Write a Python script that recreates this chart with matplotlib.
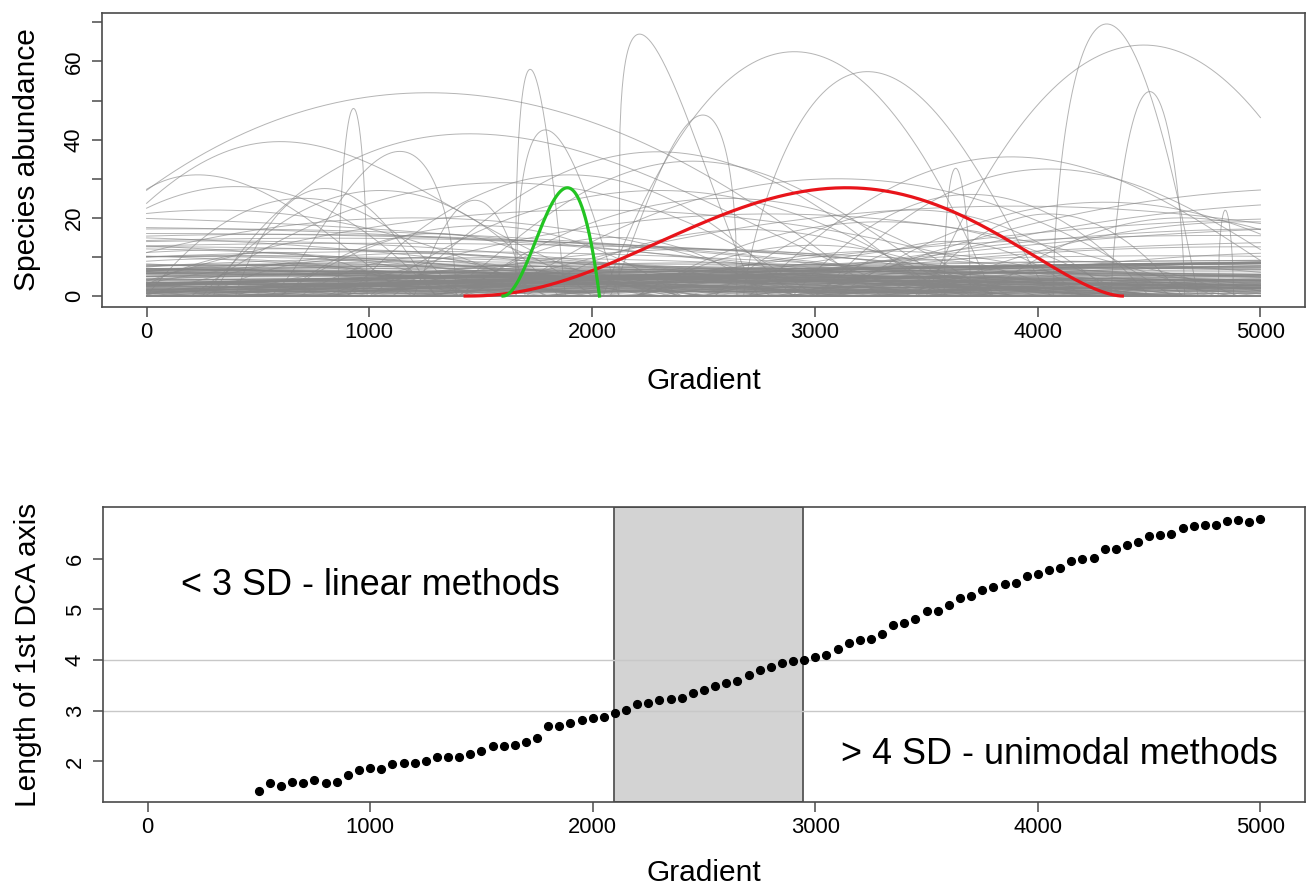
import numpy as np
import matplotlib
matplotlib.use("Agg")
import matplotlib.pyplot as plt

plt.rcParams['font.family'] = ['Liberation Sans', 'DejaVu Sans']

# ---- top panel: species response curves (beta response parameters) ----
# prominent curves: range lo..hi, mode, peak height, shape (alpha+gamma)
big_lo    = [-500, -500, 300, 550, 860, 1655, 2120, 2050, 2680, 2080, 4070, 3500, 4330, 2700, 3000, 3580, 4810, 1660, 1100, 1300, -300, 400, 1200]
big_hi    = [3300, 2800, 3600, 1390, 990, 1880, 2750, 3800, 4060, 2650, 4720, 5450, 4660, 5300, 5400, 3700, 4880, 2120, 3600, 3800, 1200, 1300, 1700]
big_mode  = [1265, 600, 1450, 1137, 929, 1722, 2213, 2908, 3236, 2497, 4310, 4476, 4503, 3880, 4050, 3632, 4842, 1790, 2295, 2450, 230, 800, 1474]
big_peak  = [52, 39.5, 41.5, 37, 48, 58, 67, 62.5, 57.4, 46.3, 69.6, 64.2, 52.3, 35.6, 32.5, 32.7, 22, 42.5, 36.9, 34.5, 31, 27.5, 24.5]
big_shape = [2, 5, 2.5, 2, 1.2, 1.5, 1.5, 2, 2, 1.6, 1.6, 2, 1.4, 2.5, 2.5, 1.2, 1.2, 1.5, 2.5, 3, 2, 2, 2]

# lower curves (parabolic): mode, peak, half width
low_mode = [-800, -300, 200, 0, 600, -500, 800, 300, -900, 1000, 0, -300, 1200, -600, 400, -1200,
            5300, 5500, 5400, 5800, 5100, 4800, 5600, 4900, 5300, 4600, 6000,
            400, 700, 1050, 1600, 1900, 2300, 2600, 3100, 3450, 3700, 4050, 4300, 4650, 2000, 1200, 2800, 3900, 300, 4950,
            1500, 2100, 2700, 3300, 3600, 1300, 2500, 3000,
            120, 2450, 3900, 760, 1830, 4410, 300, 2980, 1270, 4780, 3350, 560, 2110, 3720, 980, 4150, 1560, 2760, 4950, 420,
            3120, 1390, 2260, 4600, 860, 3560, 1950, 180, 2620, 4270, 1110, 3810, 640, 2890, 1720, 4890, 350, 3430, 2040, 1470,
            4020, 820, 2540, 3240, 60, 1880, 4500, 2700, 1190, 3650, 520, 4230, 1640, 2380, 3000, 900, 4720, 1320, 3480, 240,
            2180, 3900, 1050, 2830, 4350, 700, 1780, 3310, 4980, 1500, 2560, 380, 3770, 2090, 4640, 1240, 2940, 600, 4100, 1680,
            3520, 2320, 4840, 150, 1010, 3090, 2470, 4420, 830, 1900]
low_peak = [20.5, 17.6, 17.2, 16, 15.8, 15.3, 14.8, 14.1, 13.9, 13.5, 12.6, 12.2, 11.4, 10.8, 10.2, 9.8,
            27.6, 24.2, 20, 18, 17.2, 15.5, 14, 12.6, 11.2, 10.3, 9.5,
            28, 25, 27, 29, 31, 27, 25, 30, 22, 26, 21, 24, 20, 22, 20, 21, 23, 22, 19,
            18, 15, 17, 19, 14, 16, 12, 13,
            3.5, 6.2, 2.1, 8.4, 4.8, 1.6, 9.5, 5.3, 2.8, 7.1, 3.9, 11.2, 1.9, 6.6, 4.2, 8.9, 2.5, 5.8, 3.1, 10.4,
            1.4, 7.7, 4.5, 2.2, 9.1, 5.1, 3.3, 6.9, 1.8, 8.1, 4.0, 2.6, 12.1, 5.5, 3.7, 7.4, 1.5, 6.0, 2.9, 9.8,
            4.3, 3.0, 7.0, 1.7, 5.7, 8.6, 2.4, 4.9, 10.9, 3.4, 6.4, 2.0, 7.9, 4.6, 1.3, 5.9, 3.6, 8.8, 2.7, 6.8,
            4.1, 1.9, 9.3, 5.2, 3.2, 7.3, 2.3, 11.5, 4.4, 6.1, 1.6, 8.2, 3.8, 5.4, 2.1, 9.9, 4.7, 3.0, 6.7, 1.4,
            7.6, 2.8, 5.0, 10.1, 3.5, 4.2, 8.5, 2.2, 6.3, 1.8]
low_width = [4500, 4200, 4000, 5000, 3500, 3000, 4000, 2800, 3200, 4500, 3600, 2800, 3500, 2600, 3900, 3000,
             2300, 2600, 3200, 3500, 2600, 3000, 3800, 2500, 2000, 3400, 3600,
             900, 700, 800, 1400, 1000, 1300, 1200, 1500, 900, 800, 600, 1200, 900, 2200, 1800, 2000, 2500, 1500, 1500,
             900, 700, 1000, 1100, 600, 700, 1500, 800,
             900, 1800, 700, 1500, 2600, 500, 1200, 2200, 800, 1900, 3000, 650, 1400, 2500, 1100, 750, 3200, 1600, 1300, 2000,
             550, 2800, 1000, 1700, 600, 2400, 1250, 3400, 850, 1450, 2100, 950, 2300, 700, 1550, 2700, 1150, 450, 1850, 3100,
             1350, 800, 2000, 600, 2900, 1050, 1650, 2450, 1200, 900, 3300, 1500, 750, 2150, 1900, 500, 1400, 2600, 1000, 1750,
             2350, 650, 1300, 3000, 850, 1950, 2500, 1100, 700, 2800, 1600, 1250, 900, 2200, 1450, 550, 3200, 1700, 1000, 2400,
             1350, 800, 1850, 2650, 1150, 600, 2050, 1500, 3500, 950]

# very broad, nearly flat low curves (parabolic): mode, peak, half width
flat_mode = [-1500, 6200, 2500, -300, 5400, 1200, 7000, 3300, -2200, 4600,
             800, 5900, 2000, -900, 3800, 6600, 1600, 400, 4900, -1800,
             2900, 5600, 1000, 7200, 3500, -500, 4300, 2200, 6000, 1400,
             -1200, 3100, 5100, 600, 6800, 2700, -2500, 4000, 1800, 5300,
             200, 3600, 6400, -700, 2400, 4800, 1300, 5800, 3000, -1600,
             4500, 900, 6300, 2100, -100, 3900, 5500, 1700, 7400, 2600,
             -2000, 4200, 700, 5700, 3400, 1100, 6700, -400, 2800, 4700,
             1500, 6100, 100, 3700, 5200, -1300, 2300, 4400, 1900, 6500]
flat_peak = [6.5, 9.4, 3.2, 8.1, 5.5, 2.4, 9.6, 4.7, 7.3, 1.9,
             5.9, 8.7, 3.8, 6.8, 2.9, 9.1, 4.4, 7.8, 1.5, 6.1,
             3.5, 8.4, 5.1, 9.3, 2.2, 7.0, 4.1, 6.4, 8.9, 1.2,
             5.6, 3.0, 7.6, 4.9, 9.0, 2.6, 6.9, 3.9, 8.2, 5.3,
             1.7, 7.2, 8.6, 4.5, 2.0, 6.2, 3.6, 9.2, 5.0, 7.9,
             2.7, 6.6, 8.8, 4.2, 1.1, 5.8, 7.5, 3.3, 9.5, 4.8,
             6.0, 2.3, 7.1, 8.3, 3.7, 5.2, 9.1, 1.6, 6.3, 4.0,
             7.7, 8.5, 2.5, 5.4, 6.7, 3.4, 1.3, 7.4, 4.6, 8.0]
flat_width = [6000, 7500, 8000, 5000, 6500, 9000, 7000, 5500, 8500, 4500,
              7000, 6000, 9000, 5500, 8000, 6500, 4500, 7500, 5000, 8500,
              6000, 7000, 9000, 5500, 6500, 4500, 8000, 7500, 6000, 5000,
              8500, 7000, 4500, 9000, 6500, 5500, 8000, 6000, 7500, 5000,
              9000, 6500, 7000, 4500, 8500, 5500, 6000, 8000, 7000, 5000,
              6500, 9000, 7500, 4500, 8000, 6000, 5500, 8500, 7000, 6500,
              9000, 5000, 7500, 6000, 4500, 8000, 7000, 5500, 6500, 8500,
              5000, 7500, 9000, 6000, 4500, 8000, 7000, 5500, 6500, 8500]

# highlighted species: [lo, hi, mode, peak, shape]
red_species = [1430, 4380, 3140, 27.7, 4.0]
green_species = [1600, 2033, 1889, 27.7, 3.0]

# ---- bottom panel: DCA axis length vs gradient length ----
grad_len = np.arange(500, 5001, 50)
dca_len = [1.42, 1.58, 1.52, 1.60, 1.57, 1.64, 1.57, 1.60, 1.73, 1.84, 1.88, 1.86, 1.95, 1.97, 1.97, 2.01,
           2.08, 2.08, 2.08, 2.15, 2.20, 2.30, 2.30, 2.33, 2.38, 2.46, 2.70, 2.70, 2.75, 2.82, 2.86, 2.88,
           2.96, 3.02, 3.13, 3.16, 3.22, 3.24, 3.26, 3.36, 3.40, 3.49, 3.55, 3.59, 3.70, 3.81, 3.87, 3.95,
           3.99, 4.01, 4.06, 4.10, 4.22, 4.33, 4.39, 4.41, 4.51, 4.69, 4.73, 4.81, 4.97, 4.97, 5.09, 5.22,
           5.27, 5.38, 5.45, 5.51, 5.52, 5.65, 5.69, 5.78, 5.82, 5.95, 6.00, 6.02, 6.20, 6.20, 6.27, 6.33,
           6.45, 6.46, 6.49, 6.60, 6.65, 6.67, 6.67, 6.74, 6.76, 6.73, 6.79]
band = [2095, 2947]


def beta_resp(x, lo, hi, mode, peak, s):
    m = (mode - lo) / (hi - lo)
    a, g = s * m, s * (1 - m)
    t = np.clip((x - lo) / (hi - lo), 0, 1)
    return peak * t**a * (1 - t)**g / (m**a * (1 - m)**g)


x = np.linspace(0, 5000, 1001)
gray = '#868686'
box = '#4a4a4a'

fig = plt.figure(figsize=(13.06, 8.88), dpi=100)
ax1 = fig.add_axes([102 / 1306, 1 - 307 / 888, 1203 / 1306, 294 / 888])
ax2 = fig.add_axes([103 / 1306, 1 - 802 / 888, 1202 / 1306, 295 / 888])

for mo, pk, w in zip(low_mode + flat_mode, low_peak + flat_peak, low_width + flat_width):
    y = np.maximum(pk * (1 - ((x - mo) / w)**2), 0)
    ax1.plot(x, y, color=gray, lw=0.7, alpha=0.62)
for lo, hi, mo, pk, s in zip(big_lo, big_hi, big_mode, big_peak, big_shape):
    ax1.plot(x, beta_resp(x, lo, hi, mo, pk, s), color=gray, lw=0.7, alpha=0.62)

for sp, col in [(red_species, '#e8141a'), (green_species, '#22c422')]:
    xs = np.linspace(sp[0], sp[1], 400)
    ax1.plot(xs, beta_resp(xs, *sp), color=col, lw=2.3, zorder=5)

ax1.set_xlim(-200, 5200)
ax1.set_ylim(-2.8, 72.4)
ax1.set_xticks(range(0, 5001, 1000))
ax1.set_yticks(range(0, 71, 10))
ax1.set_yticklabels([str(v) if v % 20 == 0 else '' for v in range(0, 71, 10)])
ax1.set_xlabel('Gradient', fontsize=21.5)
ax1.set_ylabel('Species abundance', fontsize=21.5)
ax1.xaxis.set_label_coords(0.5, -0.252)
ax1.xaxis.label.set_va('center')
ax1.yaxis.set_label_coords(-0.0623, 0.5)
ax1.yaxis.label.set_va('center')

# bottom panel
ax2.axvspan(band[0], band[1], facecolor='#d3d3d3', edgecolor='#555555', lw=1.3, zorder=1)
for h in [3, 4]:
    ax2.axhline(h, color='#c8c8c8', lw=1, zorder=2)
ax2.plot(grad_len, dca_len, 'o', color='black', ms=5.6, zorder=3)
ax2.text(1000, 5.47, '< 3 SD - linear methods', fontsize=25.9, ha='center', va='center')
ax2.text(4095, 2.13, '> 4 SD - unimodal methods', fontsize=25.9, ha='center', va='center')
ax2.set_xlim(-200, 5200)
ax2.set_ylim(1.2, 7.02)
ax2.set_xticks(range(0, 5001, 1000))
ax2.set_yticks(range(2, 7))
ax2.set_xlabel('Gradient', fontsize=21.5)
ax2.set_ylabel('Length of 1st DCA axis', fontsize=21.5)
ax2.xaxis.set_label_coords(0.5, -0.2407)
ax2.xaxis.label.set_va('center')
ax2.yaxis.set_label_coords(-0.0623, 0.5)
ax2.yaxis.label.set_va('center')

for ax in (ax1, ax2):
    for sp in ax.spines.values():
        sp.set_color(box)
        sp.set_linewidth(1.2)
    ax.tick_params(direction='out', length=7.5, width=1.1, color=box, labelsize=15.8)
    ax.tick_params(axis='x', pad=3)
    ax.tick_params(axis='y', pad=5)
    for lab in ax.get_yticklabels():
        lab.set_rotation(90)
        lab.set_va('center')

fig.savefig('out.png', dpi=100)
